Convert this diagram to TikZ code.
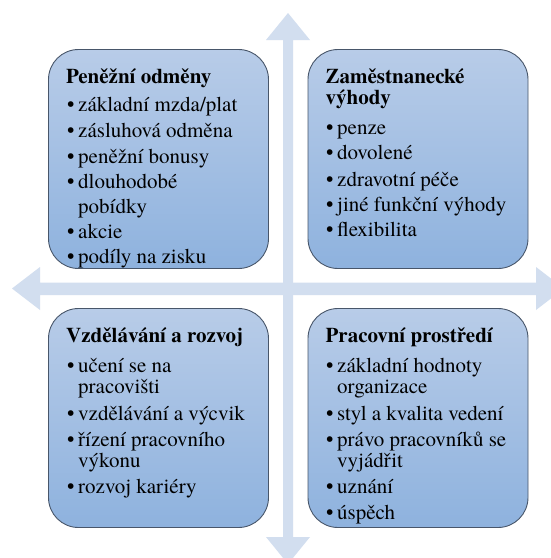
\documentclass[tikz,border=0pt]{standalone}
\usepackage{fontspec}
\setmainfont{texgyretermes}[Extension=.otf, UprightFont=*-regular, BoldFont=*-bold]
\definecolor{arrowc}{RGB}{210,222,239}
\definecolor{boxtop}{RGB}{184,204,232}
\definecolor{boxbot}{RGB}{142,178,222}
\definecolor{boxline}{RGB}{72,86,106}
\newcommand\mybul{\makebox[11.5pt][l]{\hspace{0.5pt}\textbullet}}
\tikzset{
  quad/.style={draw=boxline, line width=0.9pt, rounded corners=30pt,
    top color=boxtop, bottom color=boxbot, minimum width=220pt, minimum height=219pt,
    inner sep=0pt},
  txt/.style={anchor=base west, inner sep=0pt, font=\fontsize{21}{24}\selectfont},
  ttl/.style={txt, font=\fontsize{21}{24}\selectfont\bfseries},
  axis/.style={fill=arrowc, draw=none}
}
\begin{document}
\begin{tikzpicture}[x=1pt,y=-1pt]
\useasboundingbox (0,0) rectangle (551,558);
\clip (0,0) rectangle (551,558);
\fill[white] (0,0) rectangle (551,558);
% axes
\path[axis] (12,288.5) -- (40,267) -- (40,282.5) -- (536,282.5) -- (536,267) -- (564,288.5)
  -- (536,310) -- (536,295) -- (40,295) -- (40,310) -- cycle;
\path[axis] (288,13) -- (310,40) -- (293,40) -- (293,537) -- (310,537) -- (288,564)
  -- (266,537) -- (283,537) -- (283,40) -- (266,40) -- cycle;
% boxes
\node[quad] (b1) at (158.5,159) {};
\node[quad] (b2) at (418,159) {};
\node[quad] (b3) at (158.5,418) {};
\node[quad] (b4) at (418,418) {};
% box 1
\node[ttl] (t1) at (66,83) {Peněžní odměny};
\node[txt] (t1a) at (66.5,111.7) {\mybul základní mzda/plat};
\node[txt] (t1b) at (66.5,137.7) {\mybul zásluhová odměna};
\node[txt] (t1c) at (66.5,163) {\mybul peněžní bonusy};
\node[txt] (t1d) at (66.5,188) {\mybul dlouhodobé};
\node[txt] (t1e) at (78,213) {pobídky};
\node[txt] (t1f) at (66.5,238) {\mybul akcie};
\node[txt] (t1g) at (66.5,263) {\mybul podíly na zisku};
% box 2
\node[ttl] (t2) at (325.4,83) {Zaměstnanecké};
\node[ttl] (t2t) at (325.4,104.5) {výhody};
\node[txt] (t2a) at (325.5,134.7) {\mybul penze};
\node[txt] (t2b) at (325.5,159.5) {\mybul dovolené};
\node[txt] (t2c) at (325.5,186) {\mybul zdravotní péče};
\node[txt] (t2d) at (325.5,211.5) {\mybul jiné funkční výhody};
\node[txt] (t2e) at (325.5,236.5) {\mybul flexibilita};
% box 3
\node[ttl] (t3) at (66,342) {Vzdělávání a rozvoj};
\node[txt] (t3a) at (66.5,372) {\mybul učení se na};
\node[txt] (t3b) at (78,393) {pracovišti};
\node[txt] (t3c) at (66.5,420) {\mybul vzdělávání a výcvik};
\node[txt] (t3d) at (66.5,446) {\mybul řízení pracovního};
\node[txt] (t3e) at (78,467) {výkonu};
\node[txt] (t3f) at (66.5,493) {\mybul rozvoj kariéry};
% box 4
\node[ttl] (t4) at (325.4,342) {Pracovní prostředí};
\node[txt] (t4a) at (325.5,372) {\mybul základní hodnoty};
\node[txt] (t4b) at (337,393) {organizace};
\node[txt] (t4c) at (325.5,420) {\mybul styl a kvalita vedení};
\node[txt] (t4d) at (325.5,446) {\mybul právo pracovníků se};
\node[txt] (t4e) at (337,467) {vyjádřit};
\node[txt] (t4f) at (325.5,493) {\mybul uznání};
\node[txt] (t4g) at (325.5,519) {\mybul úspěch};
\end{tikzpicture}
\end{document}
